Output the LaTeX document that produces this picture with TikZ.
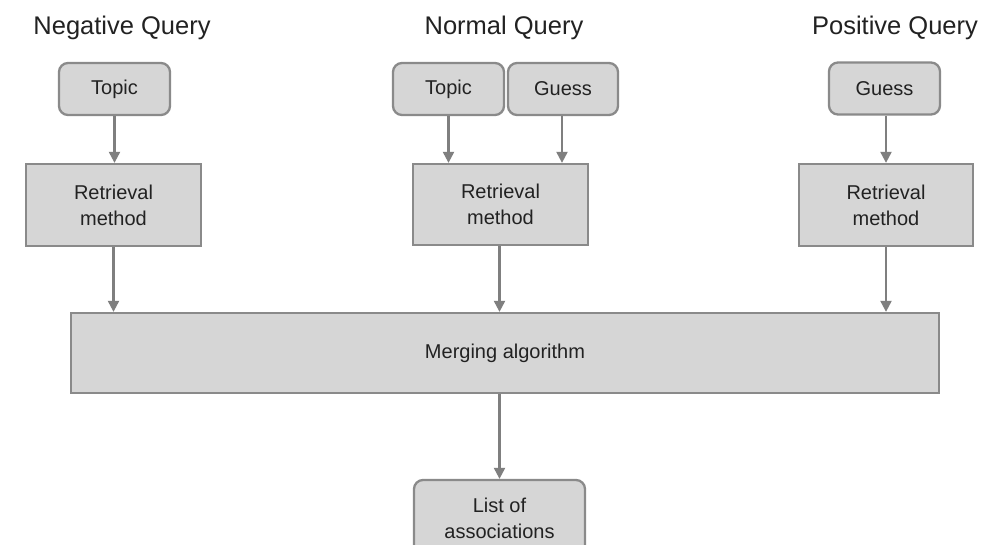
\documentclass[tikz,border=0pt]{standalone}
\usepackage{fontspec}
\setmainfont{Liberation Sans}
\usetikzlibrary{arrows.meta}
\definecolor{boxfill}{HTML}{D6D6D6}
\definecolor{boxline}{HTML}{8A8A8A}
\definecolor{arrowcol}{HTML}{7F7F7F}
\definecolor{txt}{HTML}{222222}
\begin{document}
\begin{tikzpicture}[x=1pt,y=-1pt,
  title/.style={anchor=base,inner sep=0pt,text=txt,font=\fontsize{25.5}{30}\selectfont},
  box/.style={draw=boxline,fill=boxfill,line width=2.3pt,inner sep=0pt,
    text=txt,align=center,font=\fontsize{20}{26}\selectfont},
  inbox/.style={box,rounded corners=9pt},
  flow/.style={draw=arrowcol,line width=2.1pt,-{Triangle[length=11pt,width=11pt]}}]
\useasboundingbox (0,0) rectangle (995,544);
\clip (0,0) rectangle (995,544);
\fill[white] (0,0) rectangle (995,544);

% column titles
\node[title] (tn) at (122,34) {Negative Query};
\node[title] (tm) at (504,34) {Normal Query};
\node[title] (tp) at (895,34) {Positive Query};

% query inputs
\node[inbox,minimum width=111pt,minimum height=52pt] (topicL) at (114.5,89) {Topic};
\node[inbox,minimum width=111pt,minimum height=52pt] (topicM) at (448.5,89) {Topic};
\node[inbox,minimum width=110pt,minimum height=52pt] (guessM) at (563,89) {Guess};
\node[inbox,minimum width=111pt,minimum height=52pt] (guessP) at (884.5,88.5) {Guess};

% retrieval stages
\node[box,minimum width=175pt,minimum height=82pt] (retL) at (113.5,205) {Retrieval\\method};
\node[box,minimum width=175pt,minimum height=81pt] (retM) at (500.5,204.5) {Retrieval\\method};
\node[box,minimum width=174pt,minimum height=82pt] (retP) at (886,205) {Retrieval\\method};

% merging and output
\node[box,minimum width=868pt,minimum height=80pt] (merge) at (505,353) {Merging algorithm};
\node[inbox,minimum width=171pt,minimum height=76pt] (list) at (499.5,518) {List of\\associations};

% connectors
\draw[flow] (topicL.south) -- (topicL.south |- retL.north);
\draw[flow] (topicM.south) -- (topicM.south |- retM.north);
\draw[flow] (guessM.south -| 562,0) -- (562,0 |- retM.north);
\draw[flow] (retP.north |- guessP.south) -- (retP.north);

\draw[flow] (retL.south) -- (retL.south |- merge.north);
\draw[flow] (list.north |- retM.south) -- (list.north |- merge.north);
\draw[flow] (retP.south) -- (retP.south |- merge.north);

\draw[flow] (list.north |- merge.south) -- (list.north);
\end{tikzpicture}
\end{document}
